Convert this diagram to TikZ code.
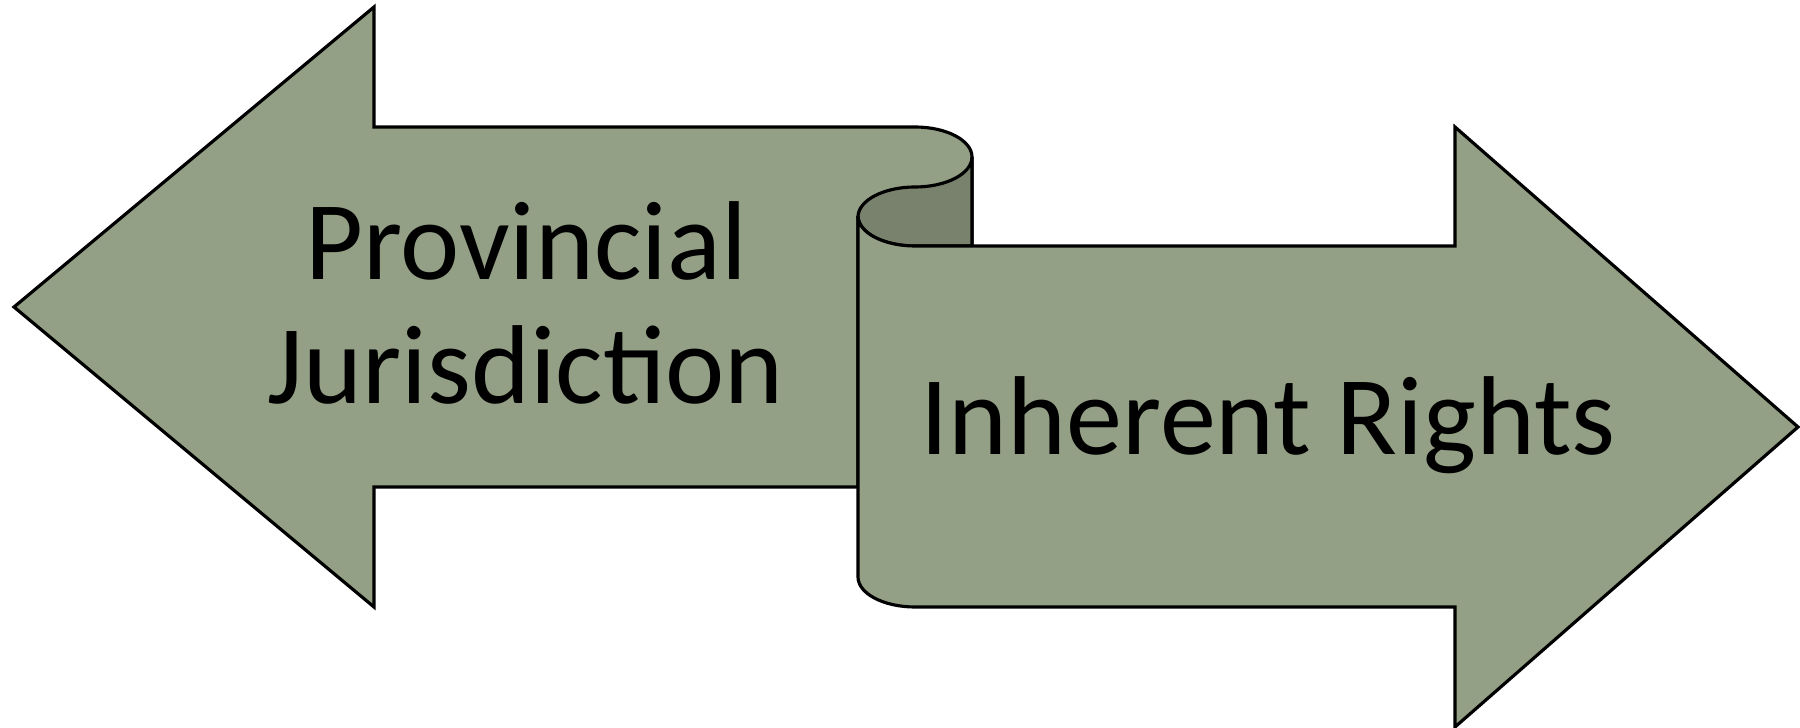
\documentclass[tikz,border=0pt]{standalone}
\usepackage{fontspec}
\setmainfont{Carlito}
\definecolor{sagelight}{RGB}{148,160,134}
\definecolor{sagedark}{RGB}{120,130,108}
\begin{document}
\begin{tikzpicture}[x=0.01cm,y=-0.01cm,
  arrowshape/.style={fill=sagelight,draw=black,line width=0.9pt,line join=miter},
  curlshape/.style={fill=sagedark,draw=black,line width=0.9pt},
  label/.style={font=\fontsize{31.9}{35}\selectfont,text=black,inner sep=0pt,align=center}]
\useasboundingbox (0,0) rectangle (1800,728);
% left arrow (behind)
\path[arrowshape] (14,307) -- (374,7) -- (374,127) -- (915,127)
  arc[start angle=90,end angle=0,x radius=57,y radius=-30]
  -- (972,246) -- (915,246)
  arc[start angle=270,end angle=180,x radius=57,y radius=-30]
  -- (858,487) -- (374,487) -- (374,607) -- cycle;
% inner curl (darker)
\path[curlshape] (858,217)
  arc[start angle=180,end angle=90,x radius=57,y radius=-30]
  arc[start angle=270,end angle=360,x radius=57,y radius=-30]
  -- (972,246) -- (915,246)
  arc[start angle=270,end angle=180,x radius=57,y radius=-30] -- cycle;
% right arrow (front)
\path[arrowshape] (858,217) -- (858,577)
  arc[start angle=180,end angle=270,x radius=57,y radius=-30]
  -- (1455,607) -- (1455,727) -- (1798,427) -- (1455,127) -- (1455,246) -- (915,246)
  arc[start angle=270,end angle=180,x radius=57,y radius=-30] -- cycle;
\node[label] (prov) at (526,303) {Provincial\\Jurisdiction};
\node[label,anchor=base] (inh) at (1268,455) {Inherent Rights};
\end{tikzpicture}
\end{document}
